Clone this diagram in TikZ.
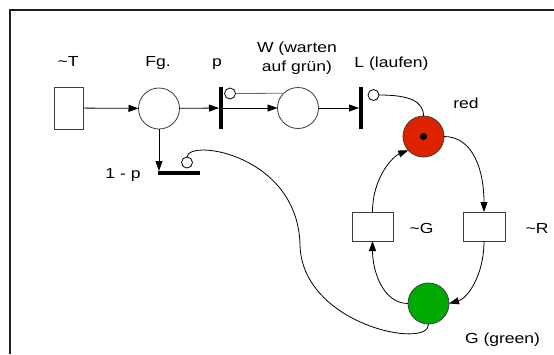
\documentclass[tikz,border=0pt]{standalone}
\usepackage{fontspec}
\setmainfont{Liberation Sans}[FakeStretch=1.2]
\usetikzlibrary{arrows.meta}
\definecolor{redfill}{RGB}{221,34,0}
\definecolor{greenfill}{RGB}{0,170,0}
\definecolor{outl}{RGB}{60,60,60}
\definecolor{framec}{RGB}{35,31,32}
\begin{document}
\begin{tikzpicture}[x=1pt,y=-1pt,
  every node/.style={inner sep=0pt,outer sep=0pt},
  lbl/.style={anchor=base,font=\fontsize{14.6}{16}\selectfont},
  place/.style={circle,draw=outl,line width=0.8pt,minimum size=41pt},
  trans/.style={rectangle,draw=outl,line width=0.8pt,fill=white},
  bar/.style={rectangle,fill=black},
  inhib/.style={circle,draw=black,line width=0.8pt,fill=white,minimum size=11pt},
  arr/.style={line width=0.8pt,-{Triangle[length=10pt,width=7pt]}},
  conn/.style={line width=0.8pt}]
\useasboundingbox (0,0) rectangle (554,354);
% frame
\draw[framec,line width=2pt] (10,354) -- (10,10.3) -- (554,10.3);
% transitions and places
\node[trans,minimum width=29pt,minimum height=42pt] (T) at (68.5,108) {};
\node[place] (Fg) at (159,108.5) {};
\node[bar,minimum width=4pt,minimum height=42pt] (pbar) at (221,108) {};
\node[inhib] (pc) at (230,93.5) {};
\node[place] (W) at (298,108) {};
\node[bar,minimum width=4pt,minimum height=42pt] (Lbar) at (361,108) {};
\node[inhib] (lc) at (373.5,95) {};
\node[bar,minimum width=42pt,minimum height=4pt] (qbar) at (179,173) {};
\node[inhib] (qc) at (187,162.5) {};
\node[place,fill=redfill] (red) at (423.5,136.5) {};
\node[circle,fill=black,minimum size=7pt] (tok) at (423.5,136.5) {};
\node[trans,minimum width=41pt,minimum height=29pt] (G) at (372.5,226.5) {};
\node[trans,minimum width=42pt,minimum height=29pt] (R) at (484,226.5) {};
\node[place,fill=greenfill] (green) at (428.5,303.5) {};
% labels
\node[lbl] (lT) at (68,66) {\textasciitilde T};
\node[lbl] (lFg) at (158,66) {Fg.};
\node[lbl] (lp) at (217,66) {p};
\node[lbl] (lW1) at (297,52) {W (warten};
\node[lbl] (lW2) at (297,71) {auf grün)};
\node[lbl] (lL) at (391.5,67) {L (laufen)};
\node[lbl] (lred) at (466,108) {red};
\node[lbl] (lq) at (123,178) {1 - p};
\node[lbl] (lG) at (421.5,233) {\textasciitilde G};
\node[lbl] (lR) at (537,233) {\textasciitilde R};
\node[lbl] (lgreen) at (502.5,343) {G (green)};
% connectors
\draw[arr] (T) -- (Fg);
\draw[arr] (Fg) -- (pbar);
\draw[arr] (pbar.east) -- (W.west);
\draw[conn,draw=gray!80!black] (pc.east) -- (W.134);
\draw[arr] (W) -- (Lbar);
\draw[conn] (lc.east) .. controls +(30,0) and +(0,-15) .. (red.north);
\draw[arr] (red.east) .. controls +(30,0) and +(0,-40) .. (R.north);
\draw[arr] (G.north) .. controls +(0,-35) and +(-15,6) .. (red.222);
\draw[arr] (R.south) .. controls +(0,35) and +(18,-5) .. (green.east);
\draw[arr] (green.west) .. controls +(-25,0) and +(0,30) .. (G.south);
\draw[arr] (Fg.south) -- (Fg.south |- qbar.north);
\draw[conn] (qc.north) .. controls (189,138) and (298,155) .. (300,245)
  .. controls (302,325) and (430,350) .. (green.south);
\end{tikzpicture}
\end{document}
